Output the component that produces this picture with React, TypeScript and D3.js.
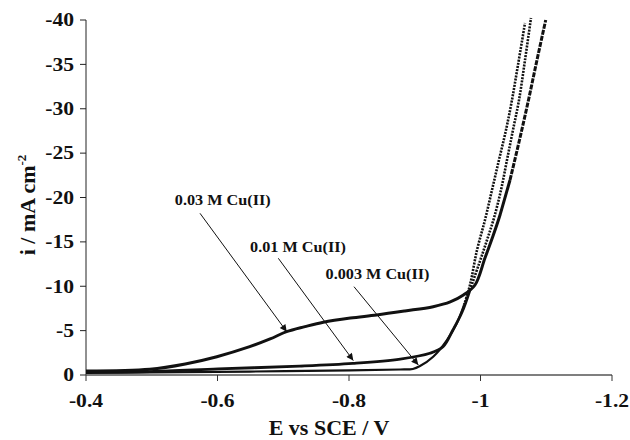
import React from "react";
import * as d3 from "d3";

// ---- Data ----
const E_030 = [-0.4, -0.497, -0.551, -0.599, -0.649, -0.68, -0.705, -0.733, -0.761, -0.802, -0.842, -0.885, -0.928, -0.954, -0.974, -0.9916, -1.0068, -1.019, -1.0297, -1.0449, -1.0593, -1.073, -1.0859, -1.0992];
const I_030 = [-0.45, -0.64, -1.24, -2.06, -3.19, -4.06, -4.88, -5.45, -5.95, -6.42, -6.76, -7.21, -7.7, -8.23, -9.01, -10.14, -13.18, -15.66, -18.03, -21.97, -26.48, -30.99, -35.49, -40.0];

const E_010 = [-0.4, -0.497, -0.601, -0.725, -0.806, -0.878, -0.923, -0.943, -0.958, -0.972, -0.984, -0.9977, -1.0099, -1.0205, -1.0312, -1.0403, -1.0494, -1.0586, -1.0677, -1.0768];
const I_010 = [-0.34, -0.39, -0.68, -1.01, -1.32, -1.8, -2.45, -3.19, -5.07, -7.1, -9.58, -12.51, -15.21, -17.69, -20.85, -24.23, -27.61, -30.99, -35.49, -40.23];

const E_003 = [-0.4, -0.497, -0.649, -0.802, -0.878, -0.897, -0.908, -0.928, -0.949, -0.964, -0.975, -0.984, -0.9947, -1.0068, -1.0175, -1.0281, -1.0388, -1.0479, -1.057, -1.0677];
const I_003 = [-0.23, -0.28, -0.39, -0.51, -0.62, -0.68, -1.01, -2.06, -3.94, -5.83, -7.89, -10.14, -14.08, -17.46, -20.85, -24.23, -27.61, -30.99, -34.93, -39.66];

const X_TICKS = [-0.4, -0.6, -0.8, -1.0, -1.2];
const X_TICK_LABELS = ["-0.4", "-0.6", "-0.8", "-1", "-1.2"];
const Y_TICKS = [0, -5, -10, -15, -20, -25, -30, -35, -40];
const Y_TICK_LABELS = ["0", "-5", "-10", "-15", "-20", "-25", "-30", "-35", "-40"];

const LABELS = ["0.03 M Cu(II)", "0.01 M Cu(II)", "0.003 M Cu(II)"];
const LABEL_E = [-0.608, -0.7224, -0.8434];
const LABEL_I = [-19.2, -13.86, -10.82];
const ARROW_FROM_E = [-0.5734, -0.6925, -0.8076];
const ARROW_FROM_I = [-18.22, -13.15, -9.95];
const ARROW_TO_E = [-0.7053, -0.8065, -0.9054];
const ARROW_TO_I = [-4.88, -1.63, -1.13];

const W = 630;
const H = 440;
const FONT = "'Liberation Serif', 'Times New Roman', serif";

function SText(props: { x: number; y: number; sx: number; size: number; anchor: string; children: React.ReactNode; dy?: string }) {
  return (
    <text
      transform={`translate(${props.x},${props.y}) scale(${props.sx},1)`}
      textAnchor={props.anchor}
      fontSize={props.size}
      dy={props.dy}
      fill="#111"
    >
      {props.children}
    </text>
  );
}

export default function App() {
  const x = d3.scaleLinear().domain([-0.4, -1.2]).range([86, 612]);
  const y = d3.scaleLinear().domain([0, -40]).range([375, 20]);

  const line = d3
    .line<[number, number]>()
    .x((d) => x(d[0]))
    .y((d) => y(d[1]))
    .curve(d3.curveCatmullRom.alpha(0.5));

  const zip = (E: number[], I: number[]) => E.map((e, k) => [e, I[k]] as [number, number]);
  const s030 = zip(E_030, I_030);
  const s010 = zip(E_010, I_010);
  const s003 = zip(E_003, I_003);

  // split into flat (solid) and steep (dotted) portions
  const split = (s: [number, number][], limit: number) => {
    const k = s.findIndex((d) => d[1] <= limit);
    return [s.slice(0, k + 1), s.slice(k)];
  };
  const [a030, b030] = split(s030, -21);
  const [a010, b010] = split(s010, -9.58);
  const [a003, b003] = split(s003, -7.89);

  return (
    <svg
      width={W}
      height={H}
      style={{ position: "absolute", left: 0, top: 0, display: "block", background: "#fff" }}
      fontFamily={FONT}
      fontWeight="bold"
    >
      <defs>
        <marker id="ah" viewBox="0 0 10 10" refX="10" refY="5" markerWidth="9" markerHeight="7" markerUnits="userSpaceOnUse" orient="auto">
          <path d="M0,0 L10,5 L0,10 z" fill="#111" />
        </marker>
      </defs>

      {/* axes */}
      <line x1={86} x2={86} y1={y(-40)} y2={y(0)} stroke="#222" strokeWidth={1} />
      <line x1={86} x2={612} y1={y(0)} y2={y(0)} stroke="#555" strokeWidth={1.4} />
      {Y_TICKS.map((t, k) => (
        <g key={"yt" + k}>
          <line x1={80} x2={86} y1={y(t)} y2={y(t)} stroke="#222" strokeWidth={1} />
          <SText x={74} y={y(t)} dy="0.35em" sx={1.2} size={18} anchor="end">
            {Y_TICK_LABELS[k]}
          </SText>
        </g>
      ))}
      {X_TICKS.map((t, k) => (
        <g key={"xt" + k}>
          <line x1={x(t)} x2={x(t)} y1={y(0)} y2={y(0) + 6} stroke="#333" strokeWidth={1} />
          <SText x={x(t)} y={407} sx={1.2} size={18} anchor="middle">
            {X_TICK_LABELS[k]}
          </SText>
        </g>
      ))}

      {/* axis titles */}
      <SText x={329} y={435} sx={1.0} size={22} anchor="middle">
        E vs SCE / V
      </SText>
      <text transform="translate(35,205) rotate(-90)" textAnchor="middle" fontSize={22} fill="#111">
        i / mA cm
        <tspan dy={-9} fontSize={13}>-2</tspan>
      </text>

      {/* curves */}
      <g fill="none" stroke="#111" strokeLinejoin="round">
        <path d={line(a003) || ""} strokeWidth={2.2} />
        <path d={line(b003) || ""} strokeWidth={2.6} strokeDasharray="2,1.2" />
        <path d={line(a010) || ""} strokeWidth={2.8} />
        <path d={line(b010) || ""} strokeWidth={2.6} strokeDasharray="2,1.2" />
        <path d={line(a030) || ""} strokeWidth={3} />
        <path d={line(b030) || ""} strokeWidth={3} strokeDasharray="5,1.2" />
      </g>

      {/* annotations */}
      {LABELS.map((lab, k) => (
        <g key={"lab" + k}>
          <SText x={x(LABEL_E[k])} y={y(LABEL_I[k])} sx={1.08} size={15} anchor="middle">
            {lab}
          </SText>
          <line
            x1={x(ARROW_FROM_E[k])}
            y1={y(ARROW_FROM_I[k])}
            x2={x(ARROW_TO_E[k])}
            y2={y(ARROW_TO_I[k])}
            stroke="#111"
            strokeWidth={1}
            markerEnd="url(#ah)"
          />
        </g>
      ))}
    </svg>
  );
}
